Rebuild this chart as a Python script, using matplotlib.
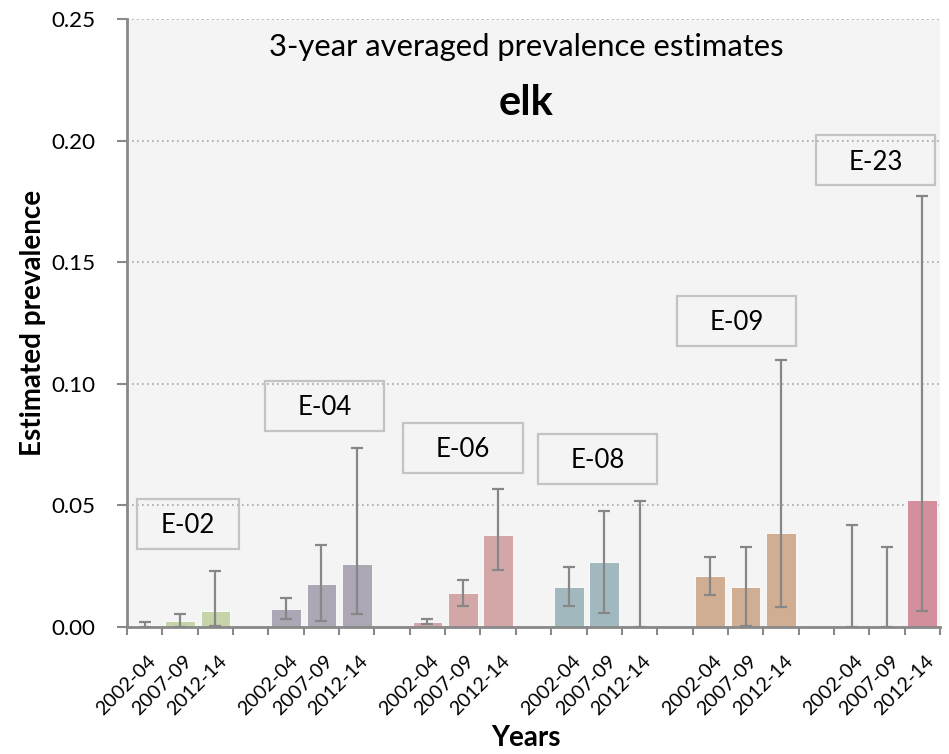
import matplotlib
matplotlib.use("Agg")
import matplotlib.pyplot as plt
from matplotlib.patches import Rectangle
import matplotlib.transforms as mtransforms
import numpy as np

units = ["E-02", "E-04", "E-06", "E-08", "E-09", "E-23"]
periods = ["2002-04", "2007-09", "2012-14"]
prevalence = [
    [0.0010, 0.0025, 0.0066],
    [0.0074, 0.0178, 0.0259],
    [0.0019, 0.0140, 0.0377],
    [0.0164, 0.0267, 0.0000],
    [0.0210, 0.0164, 0.0387],
    [0.0000, 0.0000, 0.0522],
]
upper = [
    [0.0020, 0.0053, 0.0230],
    [0.0118, 0.0338, 0.0736],
    [0.0033, 0.0193, 0.0569],
    [0.0247, 0.0476, 0.0519],
    [0.0287, 0.0329, 0.1097],
    [0.0419, 0.0329, 0.1772],
]
lower = [
    [0.0000, 0.0000, 0.0005],
    [0.0033, 0.0025, 0.0053],
    [0.0011, 0.0086, 0.0233],
    [0.0086, 0.0056, 0.0000],
    [0.0130, 0.0005, 0.0081],
    [0.0000, 0.0000, 0.0065],
]
colors = ["#c5d4a9", "#aca6b5", "#d3a7a7", "#a1b8bf", "#d0ae93", "#d48f9d"]

# label box layout (x-left in category units, y-bottom in data units)
box_x = [-0.22, 3.40, 7.31, 11.13, 15.06, 18.99]
box_w = [2.89, 3.37, 3.39, 3.37, 3.37, 3.37]
box_y = [0.0321, 0.0806, 0.0634, 0.0589, 0.1157, 0.1817]
box_h = 0.0206

fig = plt.figure(figsize=(9.49, 7.54), dpi=100)
ax = fig.add_axes([0.1338, 0.1684, 0.8567, 0.8064])
ax.set_facecolor("#f4f4f4")

positions = []
labels = []
for g, unit in enumerate(units):
    base = g * 4
    xs = np.arange(3) + base
    vals = np.array(prevalence[g])
    up = np.array(upper[g])
    lo = np.array(lower[g])
    ax.bar(xs, vals, width=0.84, color=colors[g], edgecolor="white", linewidth=0.6, zorder=2)
    ax.errorbar(xs, vals, yerr=[vals - lo, up - vals], fmt="none", ecolor="#878787",
                elinewidth=1.6, capsize=4.3, capthick=1.6, zorder=3)
    positions.extend(xs)
    labels.extend(periods)
    ax.add_patch(Rectangle((box_x[g], box_y[g]), box_w[g], box_h, facecolor="none",
                           edgecolor="#c3c3c3", linewidth=1.6, zorder=4))
    ax.text(box_x[g] + box_w[g] / 2, box_y[g] + box_h / 2 - 0.0039, unit,
            ha="center", va="baseline", fontsize=18.5, family="Lato", zorder=5)

n = 23
ax.set_xlim(-0.5, n - 0.5)
ax.set_ylim(0, 0.25)
yt = np.arange(0, 0.2501, 0.05)
ax.set_yticks(yt)
ax.set_yticklabels([f"{v:.2f}" for v in yt], family="Lato", fontsize=16.1)
ax.yaxis.grid(True, linestyle=(0, (1, 2)), color="#a8a8a8", linewidth=1.2, zorder=0)
ax.set_axisbelow(True)

ax.set_xticks(positions)
ax.set_xticklabels(labels, rotation=45, ha="right", va="top", rotation_mode="anchor",
                   family="Lato", fontsize=14.2)
ax.tick_params(axis="x", which="major", length=0, pad=18)
shift = mtransforms.ScaledTranslation(2 / 72, 0, fig.dpi_scale_trans)
for lab in ax.get_xticklabels():
    lab.set_transform(lab.get_transform() + shift)
ax.set_xticks(np.arange(-0.5, n, 1), minor=True)
ax.tick_params(axis="x", which="minor", length=6, width=1.5, color="#898989")
ax.tick_params(axis="y", length=7, width=1.5, color="#898989", pad=15.5)

for s in ["top", "right"]:
    ax.spines[s].set_visible(False)
for s in ["left", "bottom"]:
    ax.spines[s].set_color("#898989")
    ax.spines[s].set_linewidth(2)

ax.text(0.4906, 0.939, "3-year averaged prevalence estimates", transform=ax.transAxes,
        ha="center", va="baseline", fontsize=22.3, family="Lato")
ax.text(0.4906, 0.842, "elk", transform=ax.transAxes, ha="center", va="baseline",
        fontsize=30, family="Lato", fontweight="bold")

ax.set_ylabel("Estimated prevalence", family="Lato", fontweight="bold", fontsize=20)
ax.yaxis.set_label_coords(-0.0996, 0.5)
fig.text(0.554, 0.021, "Years", ha="center", va="center", family="Lato",
         fontweight="bold", fontsize=20)

fig.savefig("out.png", dpi=100)
